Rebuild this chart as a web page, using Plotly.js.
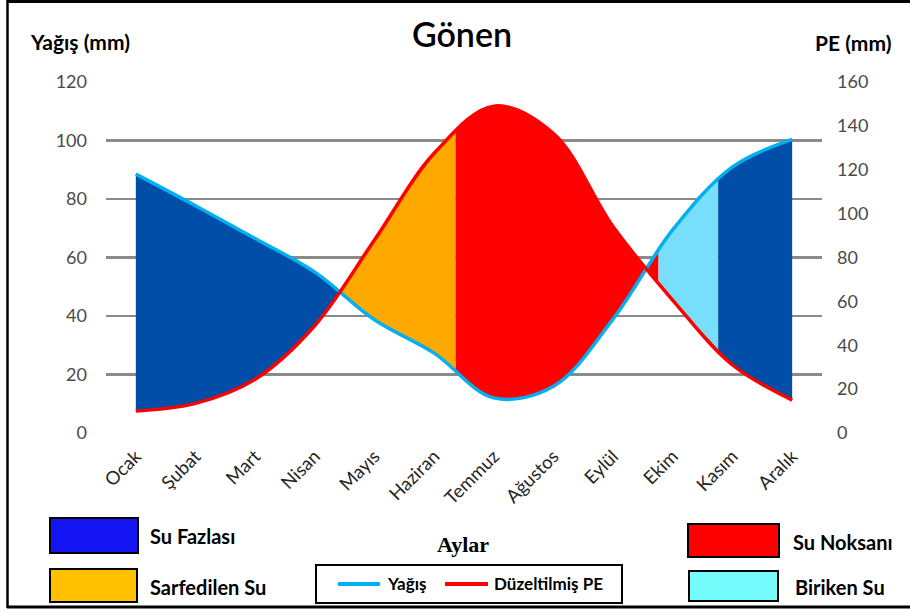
<!DOCTYPE html>
<html><head><meta charset="utf-8">
<script src="https://cdn.plot.ly/plotly-3.0.1.min.js"></script>
<style>html,body{margin:0;padding:0;background:#fff}#chart{width:910px;height:614px}</style>
</head><body><div id="chart"></div>
<script>
// ---------- data ----------
const months = ["Ocak","Şubat","Mart","Nisan","Mayıs","Haziran","Temmuz","Ağustos","Eylül","Ekim","Kasım","Aralık"];
const yagis = [88.5, 77.7, 66.5, 55, 38.7, 27.3, 12, 16, 39, 69.5, 91, 100.4];      // mm, left axis
const pe    = [10, 13.5, 24.5, 49, 88, 127.5, 149, 136.5, 94, 60.5, 31, 15];       // mm, right axis
const yTicks  = [0, 20, 40, 60, 80, 100, 120];
const y2Ticks = [0, 20, 40, 60, 80, 100, 120, 140, 160];
// month positions where the water-balance periods change (after the first crossing)
const periodBreaks = [5.36, 8.76, 9.76];

// ---------- geometry ----------
const W = 910, H = 614, M = {l: 106, r: 88, t: 82, b: 181};
const PW = W - M.l - M.r, PH = H - M.t - M.b;
const Y_MAX = 120, Y2_MAX = 160;
const sx = PW / months.length, sy = PH / Y_MAX;
const peInY = pe.map(v => v * Y_MAX / Y2_MAX);

// sample the same smooth curve Plotly draws for line.shape = 'spline'
function splineSamples(vals, n) {
  const P = vals.map((v, i) => [i * sx, v * sy]);
  const T = [];
  for (let i = 1; i < P.length - 1; i++) {
    const a = P[i-1], b = P[i], c = P[i+1];
    const d1x = a[0]-b[0], d1y = a[1]-b[1], d2x = c[0]-b[0], d2y = c[1]-b[1];
    const d1a = Math.pow(d1x*d1x + d1y*d1y, 0.25), d2a = Math.pow(d2x*d2x + d2y*d2y, 0.25);
    const nx = d2a*d2a*d1x - d1a*d1a*d2x, ny = d2a*d2a*d1y - d1a*d1a*d2y;
    const den1 = 3*d2a*(d1a+d2a), den2 = 3*d1a*(d1a+d2a);
    T.push([[b[0]+nx/den1, b[1]+ny/den1], [b[0]-nx/den2, b[1]-ny/den2]]);
  }
  const L = P.length, out = [];
  for (let k = 0; k < L - 1; k++) {
    for (let s = (k === 0 ? 0 : 1); s <= n; s++) {
      const t = s / n, u = 1 - t;
      let x, y;
      if (k === 0 || k === L - 2) {
        const c = (k === 0) ? T[0][0] : T[L-3][1];
        const p0 = P[k], p1 = P[k+1];
        x = u*u*p0[0] + 2*u*t*c[0] + t*t*p1[0];
        y = u*u*p0[1] + 2*u*t*c[1] + t*t*p1[1];
      } else {
        const c1 = T[k-1][1], c2 = T[k][0], p0 = P[k], p1 = P[k+1];
        x = u*u*u*p0[0] + 3*u*u*t*c1[0] + 3*u*t*t*c2[0] + t*t*t*p1[0];
        y = u*u*u*p0[1] + 3*u*u*t*c1[1] + 3*u*t*t*c2[1] + t*t*t*p1[1];
      }
      out.push([x / sx, y / sy]);
    }
  }
  return out;
}
function valueAt(S, x) {
  for (let i = 1; i < S.length; i++) {
    if (S[i][0] >= x) {
      const a = S[i-1], b = S[i];
      const f = (x - a[0]) / ((b[0] - a[0]) || 1);
      return a[1] + f * (b[1] - a[1]);
    }
  }
  return S[S.length-1][1];
}
function piece(S, a, b) {
  const pts = [[a, valueAt(S, a)]];
  S.forEach(p => { if (p[0] > a && p[0] < b) pts.push(p); });
  pts.push([b, valueAt(S, b)]);
  return pts;
}
function crossing(S1, S2, lo, hi) {
  let prev = valueAt(S1, lo) - valueAt(S2, lo);
  for (let x = lo + 0.001; x <= hi; x += 0.001) {
    const d = valueAt(S1, x) - valueAt(S2, x);
    if (d * prev <= 0) return x;
    prev = d;
  }
  return lo;
}
const SY = splineSamples(yagis, 60);
const SP = splineSamples(peInY, 60);
const c1 = crossing(SY, SP, 2, 5);
const last = months.length - 1;

const regions = [
  {a: 0,               b: c1,              color: '#004EA7'},
  {a: c1,              b: periodBreaks[0], color: '#FFA800'},
  {a: periodBreaks[0], b: periodBreaks[1], color: '#FF0000'},
  {a: periodBreaks[1], b: periodBreaks[2], color: '#77DFFC'},
  {a: periodBreaks[2], b: last,            color: '#004EA7'}
];
const traces = regions.map(r => {
  const poly = piece(SY, r.a, r.b).concat(piece(SP, r.a, r.b).reverse());
  return {x: poly.map(p => p[0]), y: poly.map(p => p[1]), mode: 'none', fill: 'toself',
          fillcolor: r.color, hoverinfo: 'skip', showlegend: false, xaxis: 'x', yaxis: 'y'};
});
const xs = months.map((m, i) => i);
traces.push({x: xs, y: yagis, mode: 'lines', name: 'Yağış', showlegend: false,
  line: {color: '#00B0F0', width: 3.5, shape: 'spline', smoothing: 1, simplify: false}, yaxis: 'y'});
traces.push({x: xs, y: pe, mode: 'lines', name: 'Düzeltilmiş PE', showlegend: false,
  line: {color: '#FF0000', width: 3.5, shape: 'spline', smoothing: 1, simplify: false}, yaxis: 'y2'});

// ---------- decorations ----------
const px = v => (v - M.l) / PW, py = v => (H - M.b - v) / PH;
const FONT = 'Lato, "Open Sans", sans-serif';
const shapes = [];
const rect = (x0, y0, x1, y1, fill, lw) => shapes.push({type: 'rect', xref: 'paper', yref: 'paper',
  x0: px(x0), x1: px(x1), y0: py(y1), y1: py(y0), fillcolor: fill, line: {color: '#000', width: lw}});
const seg = (x0, y0, x1, y1, color, w) => shapes.push({type: 'line', xref: 'paper', yref: 'paper',
  x0: px(x0), x1: px(x1), y0: py(y0), y1: py(y1), line: {color: color, width: w}});
// outer frame
seg(7, 1.5, 910, 1.5, '#000', 3);
seg(7.5, 0, 7.5, 608, '#000', 2.5);
seg(7, 607, 910, 607, '#000', 3);
// legend swatches
rect(50, 518, 138, 553, '#1414F2', 2);
rect(50, 569, 137, 602, '#FFC000', 2);
rect(688, 524, 779, 557, '#FF0000', 2);
rect(689, 571, 778, 601, '#74FCFC', 2);
rect(316, 565, 622, 603, '#FFFFFF', 2);
seg(338, 584, 380, 584, '#00B0F0', 4);
seg(445, 584, 488, 584, '#FF0000', 4);

const ann = [];
const txt = (x, y, text, size, opts) => ann.push(Object.assign({xref: 'paper', yref: 'paper',
  x: px(x), y: py(y), text: text, showarrow: false, xanchor: 'left', yanchor: 'middle',
  font: {family: FONT, size: size, color: '#000', weight: 700}}, opts || {}));
txt(148, 536, 'Su Fazlası', 20);
txt(148, 587, 'Sarfedilen Su', 20);
txt(791, 542, 'Su Noksanı', 20);
txt(793, 587, 'Biriken Su', 20);
txt(385, 583, 'Yağış', 17);
txt(492, 583, 'Düzeltilmiş PE', 17);
txt(435, 544, 'Aylar', 22, {font: {family: '"Liberation Serif", "DejaVu Serif", serif', size: 22, color: '#000', weight: 700}});
txt(28, 41, 'Yağış (mm)', 21);
txt(813, 42, 'PE (mm)', 21);

const layout = {
  width: W, height: H, margin: M, paper_bgcolor: '#fff', plot_bgcolor: '#fff',
  title: {text: 'Gönen', font: {family: FONT, size: 34, color: '#000', weight: 600},
          xref: 'container', yref: 'container', x: 462 / W, xanchor: 'center', y: 1 - 35 / H, yanchor: 'middle'},
  showlegend: false,
  xaxis: {range: [-0.5, last + 0.5], tickvals: xs, ticktext: months, tickangle: -45,
          showgrid: false, zeroline: false, showline: false, ticks: '', ticklabelstandoff: 8,
          tickfont: {family: FONT, size: 18.5, color: '#262626'}, fixedrange: true},
  yaxis: {range: [0, Y_MAX], tickvals: yTicks, showgrid: true, gridcolor: '#8A8A8A', gridwidth: 2.5,
          zeroline: false, showline: false, ticks: '', ticklabelstandoff: 18,
          tickfont: {family: FONT, size: 18, color: '#4A4A4A'}, fixedrange: true},
  yaxis2: {range: [0, Y2_MAX], tickvals: y2Ticks, overlaying: 'y', side: 'right', showgrid: false,
           zeroline: false, showline: false, ticks: '', ticklabelstandoff: 14,
           tickfont: {family: FONT, size: 18, color: '#4A4A4A'}, fixedrange: true},
  shapes: shapes, annotations: ann
};
Plotly.newPlot('chart', traces, layout, {displayModeBar: false, staticPlot: true});
</script></body></html>
